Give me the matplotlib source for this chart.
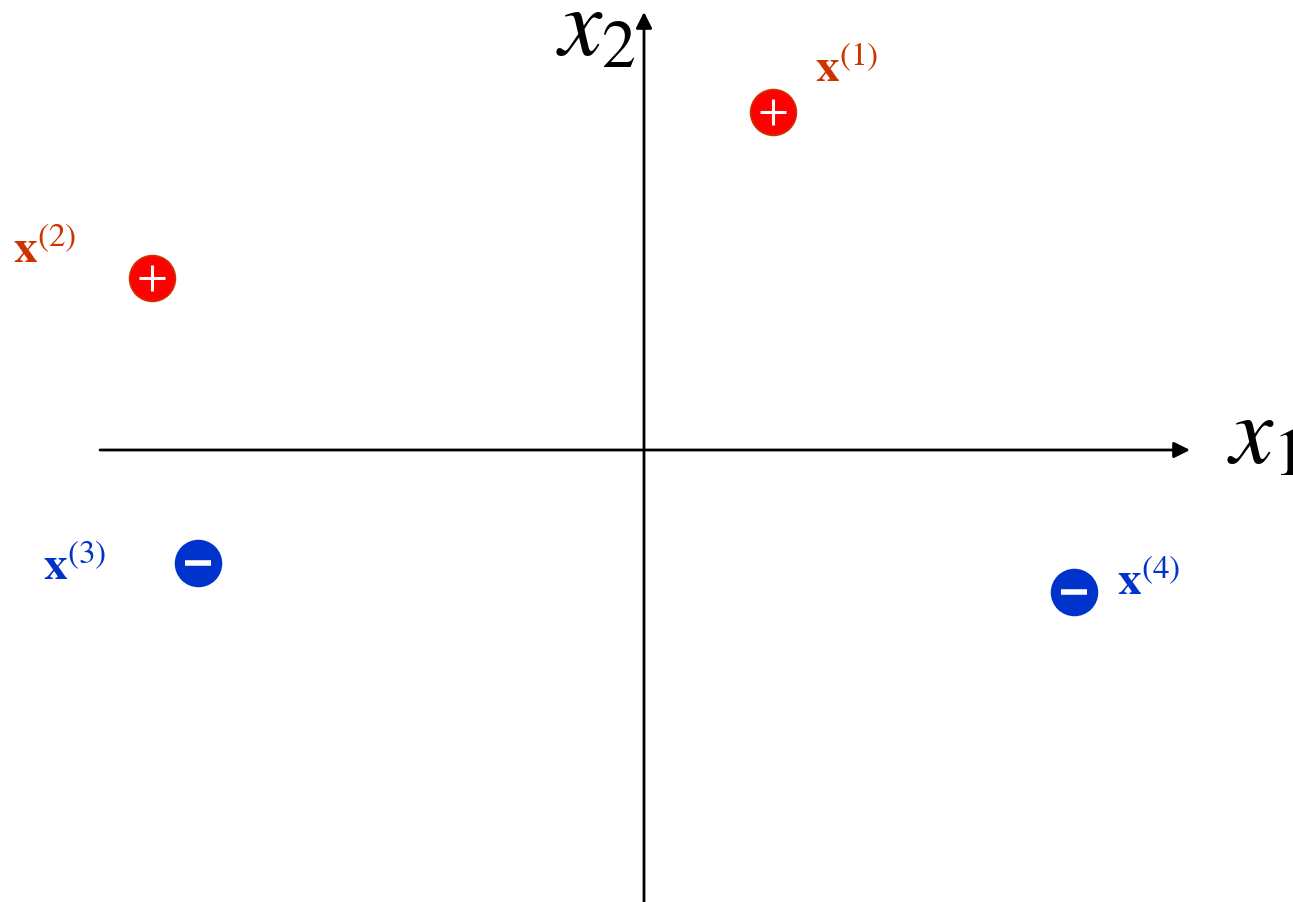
import matplotlib
matplotlib.use("Agg")
import matplotlib.pyplot as plt

plt.rcParams['mathtext.fontset'] = 'stix'

# data
labels = ["(1)", "(2)", "(3)", "(4)"]
x1_vals = [1.29, -4.92, -4.46, 4.30]
x2_vals = [3.38, 1.72, -1.13, -1.42]
classes = ["+", "+", "-", "-"]

fill = {"+": "#ff0000", "-": "#0033cc"}
edge = {"+": "#cc3300", "-": "#0033cc"}
textc = {"+": "#cc3300", "-": "#0033cc"}
label_offset = [(0.42, 0.30), (-1.39, 0.15), (-1.55, -0.17), (0.43, -0.03)]

fig = plt.figure(figsize=(12.93, 9.02), dpi=100)
ax = fig.add_axes([0, 0, 1, 1])
ax.set_xlim(-6.44, 6.49)
ax.set_ylim(-4.52, 4.50)
ax.axis("off")

# axes with arrows
ax.annotate("", xy=(5.46, 0), xytext=(-5.44, 0),
            arrowprops=dict(arrowstyle="-|>", lw=2, color="black",
                            mutation_scale=24, shrinkA=0, shrinkB=0))
ax.annotate("", xy=(0, 4.38), xytext=(0, -4.55),
            arrowprops=dict(arrowstyle="-|>", lw=2, color="black",
                            mutation_scale=24, shrinkA=0, shrinkB=0))
ax.text(5.83, -0.13, r"$x_1$", fontsize=70, ha="left", va="baseline")
ax.text(-0.88, 3.95, r"$x_2$", fontsize=70, ha="left", va="baseline")

for x, y, c, lab, off in zip(x1_vals, x2_vals, classes, labels, label_offset):
    ax.plot([x], [y], "o", ms=33, mfc=fill[c], mec=edge[c], mew=1.2)
    if c == "+":
        ax.plot([x], [y], "+", ms=19, mec="white", mew=2.2)
    else:
        ax.plot([x], [y], "_", ms=19, mec="white", mew=4)
    ax.text(x + off[0], y + off[1], r"$\mathbf{x}^{%s}$" % lab, fontsize=34,
            color=textc[c], ha="left", va="baseline")

fig.savefig("out.png", dpi=100)
